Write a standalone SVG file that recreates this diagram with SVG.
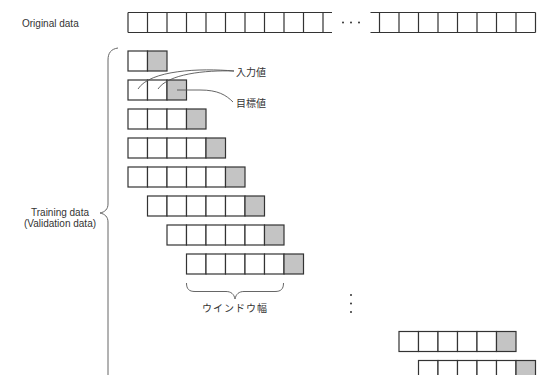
<svg xmlns="http://www.w3.org/2000/svg" width="540" height="375" viewBox="0 0 540 375">
<style>
  .c { fill: #fff; stroke: #333; stroke-width: 1.2; }
  .g { fill: #c4c4c4; stroke: #333; stroke-width: 1.2; }
  .ln { fill: none; stroke: #333; stroke-width: 1.2; }
  .lead { fill: none; stroke: #555; stroke-width: 0.9; }
  .br { fill: none; stroke: #666; stroke-width: 1; }
  .t { font-family: "Liberation Sans", "Noto Sans CJK JP", sans-serif; font-size: 10px; fill: #333; }
  .j { font-family: "Noto Sans CJK JP", "Liberation Sans", sans-serif; font-size: 10px; fill: #333; }
  .dot { fill: #333; }
</style>
<rect width="540" height="375" fill="#fff"/>

<g id="original-data">
  <text class="t" x="22" y="26.5">Original data</text>
  <path class="ln" d="M128,12.5 H332 M128,32.5 H332 M128,12.5 V32.5 M147.5,12.5 V32.5 M167,12.5 V32.5 M186.5,12.5 V32.5 M206,12.5 V32.5 M225.5,12.5 V32.5 M245,12.5 V32.5 M264.5,12.5 V32.5 M284,12.5 V32.5 M303.5,12.5 V32.5 M323,12.5 V32.5"/>
  <circle class="dot" cx="343" cy="22.5" r="1"/>
  <circle class="dot" cx="351" cy="22.5" r="1"/>
  <circle class="dot" cx="359" cy="22.5" r="1"/>
  <path class="ln" d="M370.5,12.5 H535.5 M370.5,32.5 H535.5 M379.5,12.5 V32.5 M399,12.5 V32.5 M418.5,12.5 V32.5 M438,12.5 V32.5 M457.5,12.5 V32.5 M477,12.5 V32.5 M496.5,12.5 V32.5 M516,12.5 V32.5 M535.5,12.5 V32.5"/>
</g>

<g id="training-label">
  <text class="t" x="60" y="215.5" text-anchor="middle">Training data</text>
  <text class="t" x="60" y="226.5" text-anchor="middle">(Validation data)</text>
</g>

<g id="row1">
  <rect class="c" x="128" y="51" width="19.5" height="20"/>
  <rect class="g" x="147.5" y="51" width="19.5" height="20"/>
</g>
<g id="row2">
  <rect class="c" x="128" y="80" width="19.5" height="20"/>
  <rect class="c" x="147.5" y="80" width="19.5" height="20"/>
  <rect class="g" x="167" y="80" width="19.5" height="20"/>
</g>
<g id="row3">
  <rect class="c" x="128" y="109" width="19.5" height="20"/>
  <rect class="c" x="147.5" y="109" width="19.5" height="20"/>
  <rect class="c" x="167" y="109" width="19.5" height="20"/>
  <rect class="g" x="186.5" y="109" width="19.5" height="20"/>
</g>
<g id="row4">
  <rect class="c" x="128" y="138" width="19.5" height="20"/>
  <rect class="c" x="147.5" y="138" width="19.5" height="20"/>
  <rect class="c" x="167" y="138" width="19.5" height="20"/>
  <rect class="c" x="186.5" y="138" width="19.5" height="20"/>
  <rect class="g" x="206" y="138" width="19.5" height="20"/>
</g>
<g id="row5">
  <rect class="c" x="128" y="167" width="19.5" height="20"/>
  <rect class="c" x="147.5" y="167" width="19.5" height="20"/>
  <rect class="c" x="167" y="167" width="19.5" height="20"/>
  <rect class="c" x="186.5" y="167" width="19.5" height="20"/>
  <rect class="c" x="206" y="167" width="19.5" height="20"/>
  <rect class="g" x="225.5" y="167" width="19.5" height="20"/>
</g>
<g id="row6">
  <rect class="c" x="147.5" y="196" width="19.5" height="20"/>
  <rect class="c" x="167" y="196" width="19.5" height="20"/>
  <rect class="c" x="186.5" y="196" width="19.5" height="20"/>
  <rect class="c" x="206" y="196" width="19.5" height="20"/>
  <rect class="c" x="225.5" y="196" width="19.5" height="20"/>
  <rect class="g" x="245" y="196" width="19.5" height="20"/>
</g>
<g id="row7">
  <rect class="c" x="167" y="225" width="19.5" height="20"/>
  <rect class="c" x="186.5" y="225" width="19.5" height="20"/>
  <rect class="c" x="206" y="225" width="19.5" height="20"/>
  <rect class="c" x="225.5" y="225" width="19.5" height="20"/>
  <rect class="c" x="245" y="225" width="19.5" height="20"/>
  <rect class="g" x="264.5" y="225" width="19.5" height="20"/>
</g>
<g id="row8">
  <rect class="c" x="186.5" y="254" width="19.5" height="20"/>
  <rect class="c" x="206" y="254" width="19.5" height="20"/>
  <rect class="c" x="225.5" y="254" width="19.5" height="20"/>
  <rect class="c" x="245" y="254" width="19.5" height="20"/>
  <rect class="c" x="264.5" y="254" width="19.5" height="20"/>
  <rect class="g" x="284" y="254" width="19.5" height="20"/>
</g>
<g id="vertical-dots">
  <circle class="dot" cx="351" cy="295" r="1"/>
  <circle class="dot" cx="351" cy="303.5" r="1"/>
  <circle class="dot" cx="351" cy="312" r="1"/>
</g>
<g id="row9">
  <rect class="c" x="399" y="331.5" width="19.5" height="20"/>
  <rect class="c" x="418.5" y="331.5" width="19.5" height="20"/>
  <rect class="c" x="438" y="331.5" width="19.5" height="20"/>
  <rect class="c" x="457.5" y="331.5" width="19.5" height="20"/>
  <rect class="c" x="477" y="331.5" width="19.5" height="20"/>
  <rect class="g" x="496.5" y="331.5" width="19.5" height="20"/>
</g>
<g id="row10">
  <rect class="c" x="418.5" y="360.5" width="19.5" height="20"/>
  <rect class="c" x="438" y="360.5" width="19.5" height="20"/>
  <rect class="c" x="457.5" y="360.5" width="19.5" height="20"/>
  <rect class="c" x="477" y="360.5" width="19.5" height="20"/>
  <rect class="c" x="496.5" y="360.5" width="19.5" height="20"/>
  <rect class="g" x="516" y="360.5" width="19.5" height="20"/>
</g>

<g id="label-input">
  <text class="j" x="236" y="75.5">入力値</text>
</g>
<g id="label-target">
  <text class="j" x="236" y="107">目標値</text>
</g>
<g id="label-window">
  <text class="j" x="235" y="311.5" text-anchor="middle" letter-spacing="1">ウインドウ幅</text>
</g>

<g id="connectors">
  <path class="lead" d="M234,71 C200,68 150,70 138,89"/>
  <path class="lead" d="M234,71 C205,70 168,74 158,89"/>
  <path class="lead" d="M177,90 H200 C218,90 226,95 233,102"/>
  <path class="br" d="M118,48 C111,49 108,53 108,60 V204 C108,209 105,212 100,213 C105,214 108,217 108,222 V380"/>
  <path class="br" d="M186.5,283 C186.5,289 189,291.5 195,291.5 H226 C231,291.5 234,294 235,299 C236,294 239,291.5 244,291.5 H275 C281,291.5 283.5,289 283.5,283"/>
</g>
</svg>
